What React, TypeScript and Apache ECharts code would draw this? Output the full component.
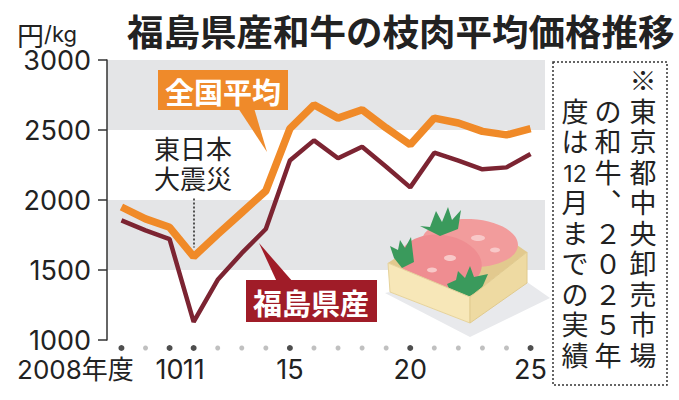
import React, { useEffect, useRef } from "react";
import * as echarts from "echarts";

const years = [2008, 2009, 2010, 2011, 2012, 2013, 2014, 2015, 2016, 2017, 2018, 2019, 2020, 2021, 2022, 2023, 2024, 2025];
const nationalAvg = [1950, 1865, 1805, 1595, 1755, 1910, 2065, 2510, 2680, 2585, 2645, 2515, 2395, 2585, 2550, 2490, 2465, 2510];
const fukushima = [1855, 1783, 1720, 1130, 1430, 1620, 1793, 2282, 2426, 2298, 2381, 2238, 2090, 2338, 2281, 2219, 2233, 2329];
const labeledYears = [2008, 2010, 2011, 2015, 2020, 2025];
const yTicks = { min: 1000, max: 3000, interval: 500 };
const quakeYear = 2011;
const quakeSpan = [2010, 1660];

const title = "福島県産和牛の枝肉平均価格推移";
const unitMain = "円";
const unitSub = "/kg";
const nationalLabel = "全国平均";
const fukushimaLabel = "福島県産";
const quakeLines = ["東日本", "大震災"];
const noteRight = ["※", "東", "京", "都", "中", "央", "卸", "売", "市", "場"];
const noteMiddle = ["の", "和", "牛", "︑", "２", "０", "２", "５", "年"];
const noteLeft = ["度", "は", "{n|12}", "月", "ま", "で", "の", "実", "績"];

const NUM_FONT = 'Inter, "Noto Sans CJK JP", sans-serif';
const JP_FONT = '"Noto Sans CJK JP", sans-serif';
const NOTE_FONT = '"Liberation Sans", "Noto Sans CJK JP", sans-serif';
const Z = 20;
const SLOT = 30.5;

function noteColumn(chars: string[], cx: number, startSlot: number) {
  return {
    type: "text",
    z: Z,
    x: cx,
    y: 82 - SLOT / 2 + startSlot * SLOT,
    style: {
      text: chars.join("\n"),
      fontFamily: NOTE_FONT,
      fontSize: 27,
      lineHeight: SLOT,
      fill: "#222",
      align: "center",
      verticalAlign: "top",
      rich: {
        n: { fontFamily: NUM_FONT, fontSize: 23, lineHeight: SLOT, fill: "#222" },
      },
    },
  };
}

const meatParts: any[] = [
  { type: "polygon", shape: { points: [[385, 293], [470, 337], [550, 298], [527, 282], [470, 323], [390, 292]] }, style: { fill: "#e8e9ec" } },
  { type: "polygon", shape: { points: [[388, 263], [425, 238], [517, 245], [527, 252], [470, 297]] }, style: { fill: "#e2c98e" } },
  { type: "ellipse", x: 470, y: 243, rotation: -0.05, shape: { cx: 0, cy: 0, rx: 48, ry: 24 }, style: { fill: "#f29c9c" } },
  { type: "ellipse", x: 441, y: 262, rotation: -0.15, shape: { cx: 0, cy: 0, rx: 41, ry: 27 }, style: { fill: "#ef8d91" } },
  { type: "ellipse", x: 450, y: 258, shape: { cx: 0, cy: 0, rx: 6, ry: 3 }, style: { fill: "#f8c8c8" } },
  { type: "ellipse", x: 432, y: 270, shape: { cx: 0, cy: 0, rx: 5, ry: 2.5 }, style: { fill: "#f8c8c8" } },
  { type: "ellipse", x: 478, y: 238, shape: { cx: 0, cy: 0, rx: 7, ry: 3 }, style: { fill: "#f8c8c8" } },
  { type: "ellipse", x: 495, y: 250, shape: { cx: 0, cy: 0, rx: 5, ry: 2.5 }, style: { fill: "#f8c8c8" } },
  { type: "polygon", shape: { points: [[390, 246], [398, 250], [400, 240], [405, 248], [411, 237], [414, 262], [402, 268], [394, 258]] }, style: { fill: "#3a9a5c" } },
  { type: "polygon", shape: { points: [[420, 226], [430, 227], [436, 211], [442, 222], [448, 207], [452, 220], [461, 210], [458, 229], [440, 236]] }, style: { fill: "#3a9a5c" } },
  { type: "polygon", shape: { points: [[447, 284], [456, 280], [458, 271], [465, 278], [470, 266], [474, 277], [488, 274], [481, 290], [466, 298], [451, 293]] }, style: { fill: "#3a9a5c" } },
  { type: "polygon", shape: { points: [[388, 263], [470, 297], [470, 323], [390, 292]] }, style: { fill: "#f7e7b8", stroke: "#e6d39c", lineWidth: 1 } },
  { type: "polygon", shape: { points: [[470, 297], [527, 252], [527, 283], [470, 323]] }, style: { fill: "#eedaa2", stroke: "#e0ca8e", lineWidth: 1 } },
].map((p, i) => ({ ...p, z: 6, z2: i }));

export default function App() {
  const ref = useRef<HTMLDivElement>(null);
  useEffect(() => {
    if (!ref.current) return;
    document.body.style.margin = "0";
    const chart = echarts.init(ref.current, undefined, { renderer: "svg" });
    const option: any = {
      animation: false,
      backgroundColor: "#fff",
      grid: { left: 107, right: 134, top: 60, bottom: 60 },
      xAxis: {
        type: "value",
        min: 2007.4,
        max: 2025.6,
        axisLine: { show: false },
        axisTick: { show: false },
        splitLine: { show: false },
        axisLabel: {
          customValues: labeledYears,
          margin: 16,
          color: "#222",
          fontFamily: NUM_FONT,
          fontSize: 27,
          formatter: (v: number) =>
            v === 2008 ? "{a|2008年度}" : String(v - 2000),
          rich: {
            a: {
              fontFamily: NUM_FONT,
              fontSize: 26,
              color: "#222",
              padding: [0, 92, 0, 0],
            },
          },
        },
      },
      yAxis: {
        type: "value",
        min: yTicks.min,
        max: yTicks.max,
        interval: yTicks.interval,
        axisLine: { show: true, lineStyle: { color: "#333", width: 1.5 } },
        axisTick: { show: true, length: 9, lineStyle: { color: "#333", width: 1.5 } },
        axisLabel: {
          margin: 16,
          color: "#222",
          fontFamily: NUM_FONT,
          fontSize: 27,
          formatter: (v: number) => String(v),
        },
        splitLine: { show: false },
        splitArea: { show: true, areaStyle: { color: ["rgba(0,0,0,0)", "#e4e5e7"] } },
      },
      series: [
        {
          type: "line",
          data: years.map((y, i) => [y, fukushima[i]]),
          symbol: "none",
          lineStyle: { color: "#7c2432", width: 4.5 },
          z: 3,
        },
        {
          type: "line",
          data: years.map((y, i) => [y, nationalAvg[i]]),
          symbol: "none",
          lineStyle: { color: "#f08a28", width: 7.5 },
          z: 4,
          markLine: {
            silent: true,
            symbol: "none",
            label: { show: false },
            lineStyle: { color: "#222", type: [2, 2], width: 1.5 },
            data: [[{ coord: [quakeYear, quakeSpan[0]] }, { coord: [quakeYear, quakeSpan[1]] }]],
          },
        },
        {
          type: "scatter",
          clip: false,
          data: years.map((y) => ({
            value: [y, 943],
            symbolSize: labeledYears.includes(y) ? 6 : 5,
            itemStyle: { color: labeledYears.includes(y) ? "#222" : "#b0b0b0" },
          })),
          z: 5,
        },
      ],
      graphic: [
        {
          type: "text",
          z: Z,
          x: 17,
          y: 21,
          style: {
            text: `{a|${unitMain}}{b|${unitSub}}`,
            verticalAlign: "top",
            rich: {
              a: { fontFamily: JP_FONT, fontSize: 27, fill: "#222" },
              b: { fontFamily: NUM_FONT, fontSize: 22, fill: "#222" },
            },
          },
        },
        {
          type: "text",
          z: Z,
          x: 127,
          y: 12,
          style: {
            text: title,
            fontFamily: JP_FONT,
            fontWeight: "bold",
            fontSize: 36.5,
            fill: "#222",
            verticalAlign: "top",
          },
        },
        {
          type: "rect",
          z: Z,
          shape: { x: 553, y: 62, width: 114, height: 323 },
          style: { fill: "none", stroke: "#333", lineWidth: 1.5, lineDash: [2, 2] },
        },
        noteColumn(noteRight, 643, 0),
        noteColumn(noteMiddle, 608, 1),
        noteColumn(noteLeft, 575, 1),
        ...meatParts,
        { type: "polygon", z: Z, shape: { points: [[238, 108], [254, 108], [267, 152]] }, style: { fill: "#ef8a2a" } },
        { type: "rect", z: Z, shape: { x: 158, y: 70, width: 130, height: 40 }, style: { fill: "#ef8a2a" } },
        {
          type: "text",
          z: Z + 1,
          x: 223,
          y: 91,
          style: {
            text: nationalLabel,
            fontFamily: JP_FONT,
            fontWeight: "bold",
            fontSize: 29,
            fill: "#fff",
            align: "center",
            verticalAlign: "middle",
          },
        },
        { type: "polygon", z: Z, shape: { points: [[259, 243], [277, 282], [293, 282]] }, style: { fill: "#a01c28" } },
        { type: "rect", z: Z, shape: { x: 246, y: 280, width: 131, height: 42 }, style: { fill: "#a01c28" } },
        {
          type: "text",
          z: Z + 1,
          x: 311,
          y: 302,
          style: {
            text: fukushimaLabel,
            fontFamily: JP_FONT,
            fontWeight: "bold",
            fontSize: 29,
            fill: "#fff",
            align: "center",
            verticalAlign: "middle",
          },
        },
        {
          type: "text",
          z: Z,
          x: 193,
          y: 135,
          style: {
            text: quakeLines.join("\n"),
            fontFamily: NOTE_FONT,
            fontSize: 26,
            lineHeight: 30,
            fill: "#222",
            align: "center",
            verticalAlign: "top",
          },
        },
      ],
    };
    chart.setOption(option);
    return () => chart.dispose();
  }, []);
  return <div ref={ref} style={{ width: 679, height: 400 }} />;
}
